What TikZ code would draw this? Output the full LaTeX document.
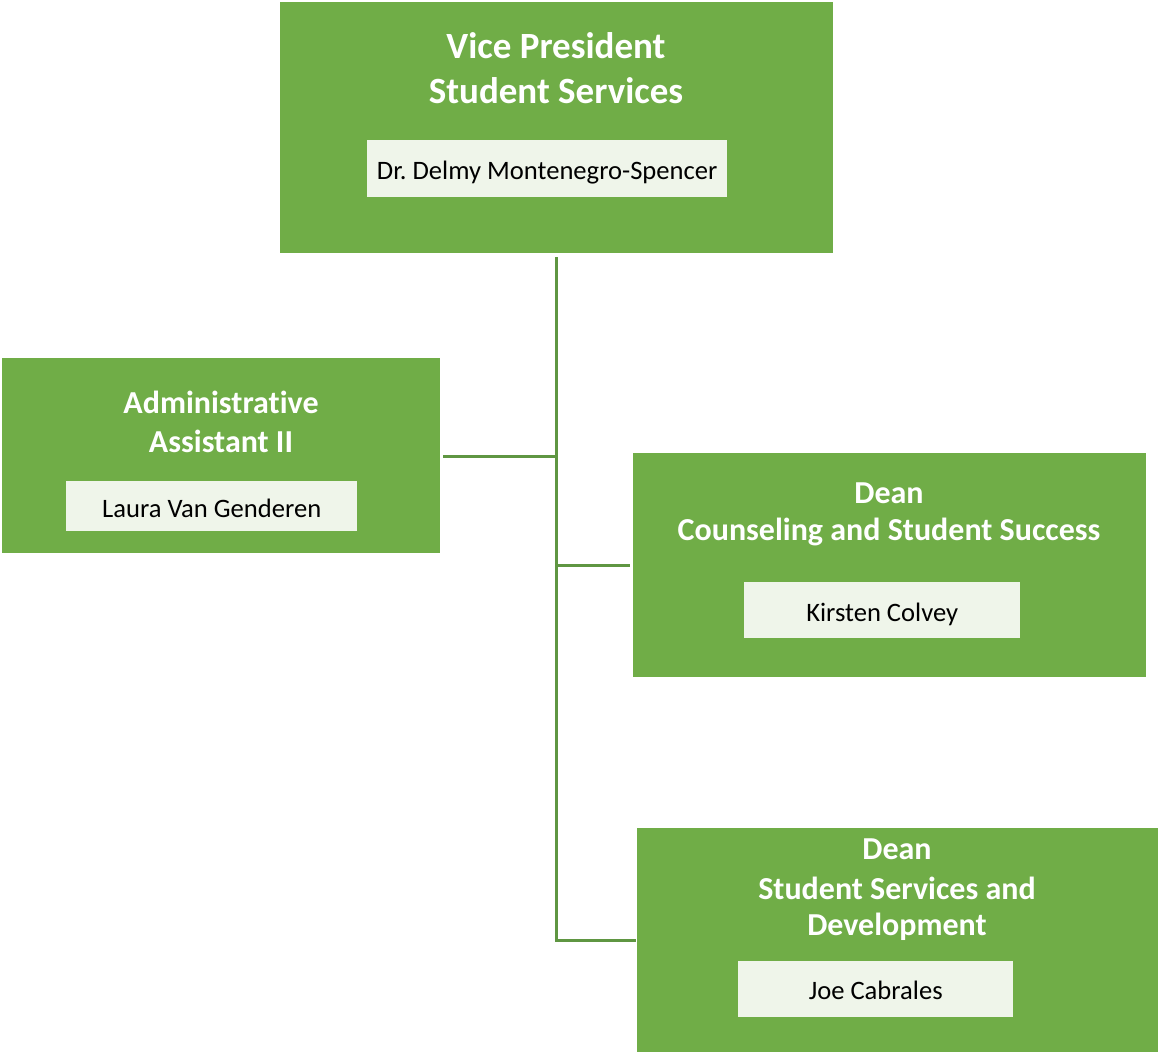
\documentclass[tikz,border=0pt]{standalone}
\usepackage{fontspec}
\setmainfont[Ligatures={NoCommon}]{Carlito}
\definecolor{boxgreen}{HTML}{70AD47}
\definecolor{linegreen}{HTML}{5F9642}
\definecolor{namefill}{HTML}{EFF5EA}
\begin{document}
\begin{tikzpicture}[x=1pt,y=-1pt,
  role/.style={fill=boxgreen,draw=none,inner sep=0pt,anchor=north west},
  namebox/.style={fill=namefill,draw=none,inner sep=0pt,anchor=north west},
  titletext/.style={text=white,font=\bfseries\fontsize{32}{39}\selectfont,align=center,inner sep=0pt},
  nametext/.style={text=black,font=\fontsize{26.6}{30}\selectfont,inner sep=0pt},
  conn/.style={draw=linegreen,line width=3pt}]
\useasboundingbox (0,0) rectangle (1159,1053);
% boxes
\node[role,minimum width=553pt,minimum height=251pt] (vp) at (280,2) {};
\node[role,minimum width=438pt,minimum height=195pt] (aa) at (2,358) {};
\node[role,minimum width=513pt,minimum height=224pt] (d1) at (633,453) {};
\node[role,minimum width=521pt,minimum height=224pt] (d2) at (637,828) {};
% name boxes
\node[namebox,minimum width=360pt,minimum height=57pt] (vpn) at (367,140) {};
\node[namebox,minimum width=291pt,minimum height=50pt] (aan) at (66,481) {};
\node[namebox,minimum width=276pt,minimum height=56pt] (d1n) at (744,582) {};
\node[namebox,minimum width=275pt,minimum height=56pt] (d2n) at (738,961) {};
% titles
\node[titletext,font=\bfseries\fontsize{37}{45}\selectfont] (vpt1) at (556,46) {Vice President};
\node[titletext,font=\bfseries\fontsize{37}{45}\selectfont] (vpt2) at (556,91) {Student Services};
\node[titletext] (aat1) at (221,402) {Administrative};
\node[titletext] (aat2) at (221,441) {Assistant II};
\node[titletext] (d1t1) at (889,493) {Dean};
\node[titletext] (d1t2) at (889,532) {Counseling and Student Success};
\node[titletext] (d2t1) at (897,849) {Dean};
\node[titletext] (d2t2) at (897,888) {Student Services and};
\node[titletext] (d2t3) at (897,927) {Development};
% names
\node[nametext] (vpname) at ([yshift=-4pt]vpn.center) {Dr.\ Delmy Montenegro-Spencer};
\node[nametext] (aaname) at ([yshift=-2pt]aan.center) {Laura Van Genderen};
\node[nametext] (d1name) at ([yshift=-4pt]d1n.center) {Kirsten Colvey};
\node[nametext] (d2name) at ([yshift=-1.5pt]d2n.center) {Joe Cabrales};
% connectors
\coordinate (top) at (556,258);
\coordinate (jaa) at (556,456);
\coordinate (jd1) at (556,565);
\coordinate (jd2) at (556,940);
\coordinate (eaa) at (443,456);
\coordinate (ed1) at (630,565);
\coordinate (ed2) at (634,940);
\draw[conn,line cap=rect] (top) -- (jd2) -- (ed2);
\draw[conn] (jaa) -- (eaa);
\draw[conn] (jd1) -- (ed1);
\end{tikzpicture}
\end{document}
